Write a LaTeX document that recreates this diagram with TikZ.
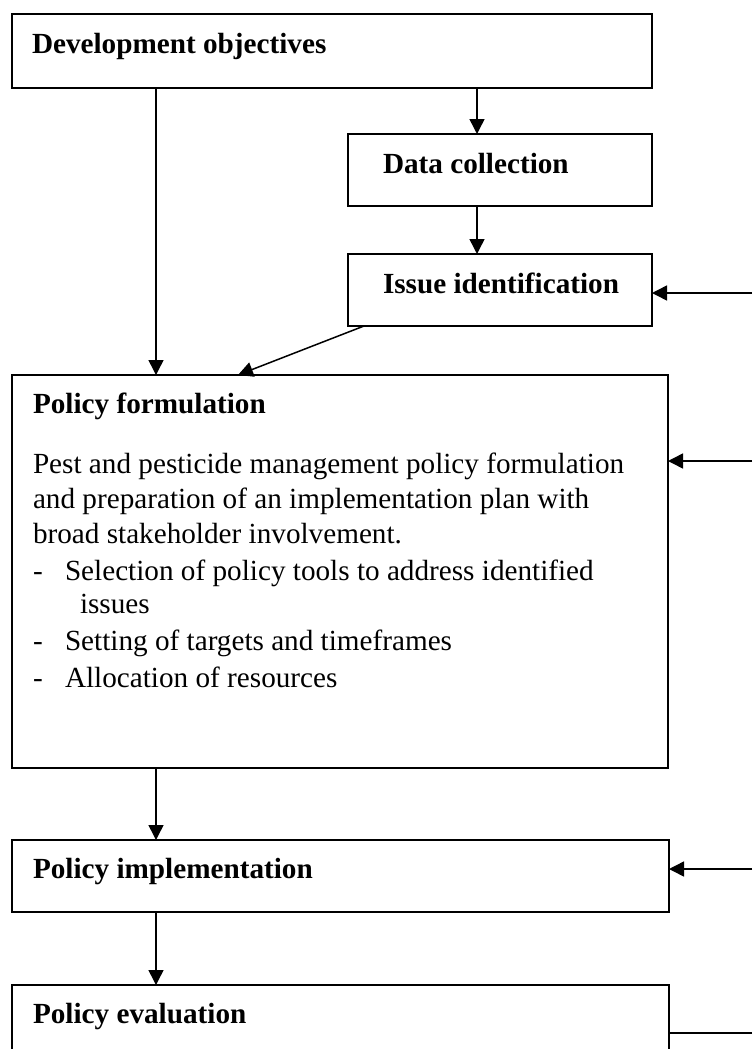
\documentclass[tikz,border=0pt]{standalone}
\usepackage{fontspec}
\setmainfont{Liberation Serif}
\usetikzlibrary{arrows.meta}
\tikzset{
  box/.style={draw=black, line width=1.6pt, fill=none, inner sep=0pt, outer sep=0pt, anchor=north west},
  txt/.style={anchor=base west, inner sep=0pt, outer sep=0pt, font=\fontsize{29.2}{35.5}\selectfont},
  ttl/.style={txt, font=\fontsize{29.2}{35.5}\selectfont\bfseries},
  arr/.style={line width=1.5pt, -{Triangle[length=15pt,width=15pt]}},
  plain/.style={line width=1.5pt}
}
\begin{document}
\begin{tikzpicture}[x=1pt,y=-1pt]
\useasboundingbox (0,0) rectangle (752,1049);
\clip (0,0) rectangle (752,1049);
% boxes
\node[box, minimum width=640pt, minimum height=74pt] (dev) at (12,14) {};
\node[box, minimum width=304pt, minimum height=72pt] (data) at (348,134) {};
\node[box, minimum width=304pt, minimum height=72pt] (issue) at (348,254) {};
\node[box, minimum width=656pt, minimum height=393pt] (form) at (12,375) {};
\node[box, minimum width=657pt, minimum height=72pt] (impl) at (12,840) {};
\node[box, minimum width=657pt, minimum height=120pt] (eval) at (12,985) {};
% texts
\node[ttl] (devt) at (32,53) {Development objectives};
\node[ttl] (datat) at (383,173) {Data collection};
\node[ttl] (issuet) at (383,293) {Issue identification};
\node[ttl] (formt) at (33,413) {Policy formulation};
\node[txt] (f1) at (33,473) {Pest and pesticide management policy formulation};
\node[txt] (f2) at (33,508) {and preparation of an implementation plan with};
\node[txt] (f3) at (33,543) {broad stakeholder involvement.};
\node[txt] (d1) at (33,580) {-};
\node[txt] (i1) at (65,580) {Selection of policy tools to address identified};
\node[txt] (i1b) at (80,613) {issues};
\node[txt] (d2) at (33,650) {-};
\node[txt] (i2) at (65,650) {Setting of targets and timeframes};
\node[txt] (d3) at (33,687) {-};
\node[txt] (i3) at (65,687) {Allocation of resources};
\node[ttl] (implt) at (33,878) {Policy implementation};
\node[ttl] (evalt) at (33,1023) {Policy evaluation};
% free ends on the right
\coordinate (r1) at (752,293);
\coordinate (r2) at (752,461);
\coordinate (r3) at (752,869);
\coordinate (r4) at (752,1033);
% connectors
\draw[arr] ([xshift=144pt]dev.south west) -- ([xshift=144pt]form.north west);
\draw[arr] ([xshift=465pt]dev.south west) -- ([xshift=129pt]data.north west);
\draw[arr] ([xshift=129pt]data.south west) -- ([xshift=129pt]issue.north west);
\draw[arr] ([xshift=16pt]issue.south west) -- ([xshift=226pt]form.north west);
\draw[arr] (r1) -- (r1 -| issue.east);
\draw[arr] (r2) -- (r2 -| form.east);
\draw[arr] ([xshift=144pt]form.south west) -- ([xshift=144pt]impl.north west);
\draw[arr] (r3) -- (r3 -| impl.east);
\draw[arr] ([xshift=144pt]impl.south west) -- ([xshift=144pt]eval.north west);
\draw[plain] (r4) -- (r4 -| eval.east);
\end{tikzpicture}
\end{document}
